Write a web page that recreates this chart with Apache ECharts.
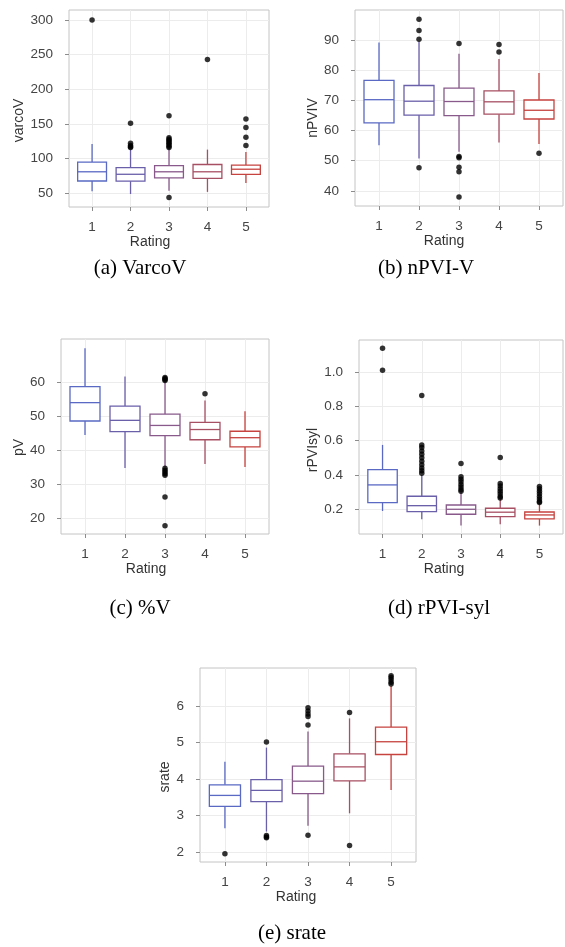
<!DOCTYPE html>
<html>
<head>
<meta charset="utf-8">
<script src="https://cdn.jsdelivr.net/npm/echarts@6/dist/echarts.min.js"></script>
<style>
html,body{margin:0;padding:0;background:#fff;}
#chart{width:565px;height:947px;}
</style>
</head>
<body>
<div id="chart"></div>
<script>
// ---------- data ----------
const ratings = [1, 2, 3, 4, 5];

// box stats per rating: [lower whisker, Q1, median, Q3, upper whisker]
const varcoVBoxes = [
  [53, 67.7, 81, 95, 121],
  [49, 67.5, 77.4, 87, 113],
  [53.6, 72.2, 81, 90, 114],
  [52, 71.6, 81, 91.5, 113],
  [65, 77.4, 84.7, 90.5, 109.5]
];
const varcoVOutliers = [
  [300],
  [151, 122, 119, 117, 116],
  [162, 130, 128, 126, 124, 122, 120, 118, 116, 44],
  [243],
  [157, 145, 131, 119]
];

const nPVIVBoxes = [
  [55.1, 62.5, 70.2, 76.6, 89.1],
  [50.7, 65.1, 69.7, 74.9, 89.5],
  [53, 64.9, 69.6, 74, 85.4],
  [56, 65.4, 69.5, 73.1, 83.7],
  [55.5, 63.8, 66.7, 70.1, 79]
];
const nPVIVOutliers = [
  [],
  [96.8, 93.1, 90.2, 47.7],
  [88.8, 51.4, 51.0, 47.8, 46.3, 38],
  [88.5, 86],
  [52.5]
];

const pVBoxes = [
  [44.4, 48.5, 53.9, 58.6, 69.9],
  [34.7, 45.4, 48.7, 52.9, 61.6],
  [35, 44.2, 47.2, 50.5, 60],
  [35.9, 43, 46, 48.1, 54.5],
  [35, 40.9, 43.6, 45.5, 51.4]
];
const pVOutliers = [
  [],
  [],
  [61.3, 61, 60.7, 60.4, 34.6, 34, 33.5, 33, 32.6, 26.2, 17.7],
  [56.5],
  []
];

const rPVIsylBoxes = [
  [0.19, 0.239, 0.342, 0.431, 0.575],
  [0.142, 0.186, 0.221, 0.276, 0.40],
  [0.105, 0.171, 0.2, 0.225, 0.30],
  [0.113, 0.157, 0.183, 0.206, 0.26],
  [0.105, 0.144, 0.167, 0.184, 0.235]
];
const rPVIsylOutliers = [
  [1.138, 1.01],
  [0.862, 0.575, 0.56, 0.54, 0.52, 0.50, 0.48, 0.46, 0.44, 0.425, 0.41],
  [0.466, 0.39, 0.375, 0.36, 0.345, 0.33, 0.315, 0.305],
  [0.501, 0.35, 0.335, 0.32, 0.305, 0.29, 0.275, 0.265],
  [0.332, 0.32, 0.305, 0.29, 0.275, 0.26, 0.245, 0.24]
];

const srateBoxes = [
  [2.65, 3.25, 3.55, 3.84, 4.47],
  [2.56, 3.38, 3.69, 3.98, 4.86],
  [2.72, 3.6, 3.94, 4.35, 5.3],
  [3.06, 3.95, 4.33, 4.69, 5.66],
  [3.7, 4.67, 5.02, 5.42, 6.55]
];
const srateOutliers = [
  [1.95],
  [5.01, 2.45, 2.41, 2.39],
  [5.95, 5.86, 5.78, 5.71, 5.48, 2.46],
  [5.82, 2.18],
  [6.83, 6.78, 6.72, 6.65, 6.6]
];

// tick labels
const xTicks = [1, 2, 3, 4, 5];
const varcoVTicks = [50, 100, 150, 200, 250, 300];
const nPVIVTicks = [40, 50, 60, 70, 80, 90];
const pVTicks = [20, 30, 40, 50, 60];
const rPVIsylTicks = [0.2, 0.4, 0.6, 0.8, 1.0];
const srateTicks = [2, 3, 4, 5, 6];

const yNames = ['varcoV', 'nPVIV', 'pV', 'rPVIsyl', 'srate'];
const captions = ['(a) VarcoV', '(b) nPVI-V', '(c) %V', '(d) rPVI-syl', '(e) srate'];
const xName = 'Rating';

// ---------- styling / layout ----------
const boxColors = ['#5a69c4', '#6a5fa9', '#88598a', '#a74f63', '#c6433f'];
const sans = '"Liberation Sans", Arial, sans-serif';
const serif = '"Liberation Serif", "Times New Roman", serif';

const panels = [
  {boxes: varcoVBoxes, out: varcoVOutliers, ticks: varcoVTicks, min: 30.2, max: 314.4, dec: 0,
   grid: {left: 69, top: 10, width: 200, height: 197}, yGap: 39, yShift: 12, xShift: 19, cap: [140, 268]},
  {boxes: nPVIVBoxes, out: nPVIVOutliers, ticks: nPVIVTicks, min: 35.0, max: 99.9, dec: 0,
   grid: {left: 355, top: 10, width: 208, height: 196}, yGap: 31, yShift: 10, xShift: 15, cap: [426, 268]},
  {boxes: pVBoxes, out: pVOutliers, ticks: pVTicks, min: 15.3, max: 72.6, dec: 0,
   grid: {left: 61, top: 339, width: 208, height: 195}, yGap: 31, yShift: 11, xShift: 19, cap: [140, 608]},
  {boxes: rPVIsylBoxes, out: rPVIsylOutliers, ticks: rPVIsylTicks, min: 0.056, max: 1.186, dec: 1,
   grid: {left: 359, top: 340, width: 204, height: 194}, yGap: 34, yShift: 13, xShift: 17, cap: [439, 608]},
  {boxes: srateBoxes, out: srateOutliers, ticks: srateTicks, min: 1.726, max: 7.04, dec: 0,
   grid: {left: 200, top: 668, width: 216, height: 194}, yGap: 24, yShift: 12, xShift: 12, cap: [292, 933]}
];

function renderBox(params, api) {
  const x = api.value(0);
  const lo = api.value(1), q1 = api.value(2), med = api.value(3), q3 = api.value(4), hi = api.value(5);
  const c = boxColors[params.dataIndex];
  const hw = 0.375;
  const tl = api.coord([x - hw, q3]);
  const br = api.coord([x + hw, q1]);
  const mL = api.coord([x - hw, med]);
  const mR = api.coord([x + hw, med]);
  const pHi = api.coord([x, hi]);
  const pQ3 = api.coord([x, q3]);
  const pQ1 = api.coord([x, q1]);
  const pLo = api.coord([x, lo]);
  const st = {stroke: c, lineWidth: 1.3, fill: null};
  return {
    type: 'group',
    children: [
      {type: 'line', shape: {x1: pHi[0], y1: pHi[1], x2: pQ3[0], y2: pQ3[1]}, style: st},
      {type: 'line', shape: {x1: pQ1[0], y1: pQ1[1], x2: pLo[0], y2: pLo[1]}, style: st},
      {type: 'rect', shape: {x: tl[0], y: tl[1], width: br[0] - tl[0], height: br[1] - tl[1]},
       style: {stroke: c, lineWidth: 1.3, fill: '#ffffff'}},
      {type: 'line', shape: {x1: mL[0], y1: mL[1], x2: mR[0], y2: mR[1]}, style: st}
    ]
  };
}

const option = {
  animation: false,
  backgroundColor: '#ffffff',
  grid: [], xAxis: [], yAxis: [], series: [], graphic: []
};

panels.forEach((p, i) => {
  option.grid.push(Object.assign({show: true, borderColor: '#c4c4c4', borderWidth: 1, backgroundColor: '#ffffff'}, p.grid));
  option.xAxis.push({
    gridIndex: i, type: 'value', min: 0.4, max: 5.6,
    axisLine: {show: false},
    axisTick: {show: true, customValues: xTicks, length: 4, lineStyle: {color: '#8c8c8c', width: 1}},
    axisLabel: {customValues: xTicks, margin: 13, fontSize: 13.5, color: '#444444', fontFamily: sans},
    splitLine: {show: true, lineStyle: {color: '#ececec', width: 1}},
    name: xName, nameLocation: 'middle', nameGap: 28,
    nameTextStyle: {fontSize: 14, color: '#333333', fontFamily: sans, padding: [0, p.xShift * 2, 0, 0]}
  });
  option.yAxis.push({
    gridIndex: i, type: 'value', min: p.min, max: p.max,
    axisLine: {show: false},
    axisTick: {show: true, customValues: p.ticks, length: 4, lineStyle: {color: '#8c8c8c', width: 1}},
    axisLabel: {customValues: p.ticks, margin: 16, fontSize: 13.5, color: '#444444', fontFamily: sans,
      formatter: v => Number(v).toFixed(p.dec)},
    splitLine: {show: true, lineStyle: {color: '#ececec', width: 1}},
    name: yNames[i], nameLocation: 'middle', nameGap: p.yGap,
    nameTextStyle: {fontSize: 14, color: '#333333', fontFamily: sans, padding: [0, p.yShift * 2, 0, 0]}
  });
  option.series.push({
    type: 'custom', xAxisIndex: i, yAxisIndex: i,
    renderItem: renderBox,
    encode: {x: 0, y: [1, 2, 3, 4, 5]},
    data: p.boxes.map((s, k) => [ratings[k]].concat(s)),
    silent: true
  });
  option.series.push({
    type: 'scatter', xAxisIndex: i, yAxisIndex: i,
    symbol: 'circle', symbolSize: 5.5,
    itemStyle: {color: '#000000'},
    data: p.out.flatMap((arr, k) => arr.map(v => [ratings[k], v])),
    silent: true, z: 5
  });
  option.graphic.push({
    type: 'text', x: p.cap[0], y: p.cap[1],
    style: {text: captions[i], font: '21px ' + serif, fill: '#000000', align: 'center', verticalAlign: 'middle'}
  });
});

const chart = echarts.init(document.getElementById('chart'), null, {renderer: 'canvas'});
chart.setOption(option);
</script>
</body>
</html>
